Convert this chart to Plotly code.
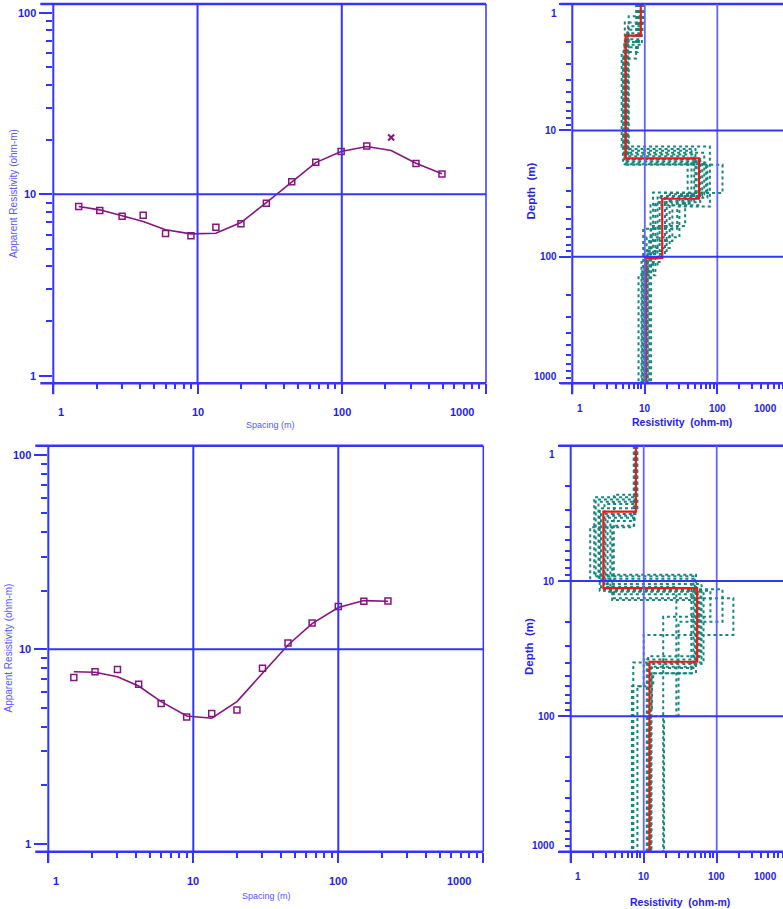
import math
import plotly.graph_objects as go

W, H = 783, 909

# ---------------- Sounding 1 ----------------
s1_spacing = [1.5, 2.1, 3.0, 4.2, 6.0, 9.0, 13.4, 20, 30, 45, 66, 99, 149, 220, 327, 495]
s1_observed = [8.55, 8.13, 7.57, 7.66, 6.07, 5.90, 6.58, 6.87, 8.92, 11.7, 15.0, 17.2, 18.4, 20.5, 14.75, 12.9]
s1_excluded = [13]  # index of the point left out of the inversion
s1_calculated = [8.55, 8.20, 7.60, 7.08, 6.37, 6.05, 6.10, 6.98, 9.00, 11.74, 14.93, 17.2, 18.3, 17.4, 14.8, 12.95]

s1_model_res = [8.8, 5.45, 56, 17.4, 10.3]
s1_model_depth = [1.78, 16.6, 34.7, 102]

s1_equiv_res = [
    [9.3, 5.8, 48, 20, 10.8],
    [8.3, 5.2, 62, 15, 9.8],
    [7.6, 5.0, 70, 13, 9.2],
    [9.0, 6.0, 44, 24, 11.5],
    [8.6, 5.6, 118, 19, 10.5],
    [8.0, 4.8, 79, 28, 9.5],
    [9.5, 5.3, 39, 36, 12.2],
    [8.9, 5.7, 52, 14, 8.2],
    [7.9, 5.1, 66, 22, 11.0],
    [9.2, 5.9, 58, 12, 10.0],
    [8.4, 5.4, 50, 30, 10.6],
    [9.1, 5.5, 73, 16, 9.0],
]
s1_equiv_depth = [
    [1.6, 15.5, 36, 90],
    [2.0, 17.5, 33, 115],
    [2.7, 18.5, 31, 130],
    [1.25, 14.5, 38, 75],
    [1.9, 18.7, 31.3, 95],
    [2.4, 13.4, 40, 60],
    [1.4, 16.0, 35, 57],
    [1.7, 17.0, 37, 140],
    [2.2, 15.0, 32, 85],
    [1.5, 16.8, 39, 125],
    [1.8, 14.0, 33, 70],
    [2.1, 18.0, 34, 110],
]

# ---------------- Sounding 2 ----------------
s2_spacing = [1.5, 2.1, 3.0, 4.2, 6.0, 9.0, 13.4, 20, 30, 45, 66, 100, 150, 220]
s2_observed = [7.15, 7.67, 7.86, 6.61, 5.27, 4.49, 4.67, 4.87, 7.98, 10.78, 13.66, 16.6, 17.66, 17.74]
s2_calculated = [7.67, 7.62, 7.23, 6.47, 5.38, 4.54, 4.42, 5.38, 7.53, 10.52, 13.55, 16.4, 17.8, 17.65]

s2_model_res = [7.8, 2.8, 54, 12]
s2_model_depth = [3.07, 11.3, 39.5]

s2_equiv_res = [
    [8.0, 2.1, 50, 12.5],
    [7.5, 3.5, 60, 11.5],
    [7.3, 1.85, 45, 13, 12],
    [7.9, 3.9, 169, 10, 8.2],
    [8.2, 2.5, 82, 18.5],
    [7.6, 3.2, 66, 7.2],
    [7.8, 2.9, 28, 19],
    [8.1, 2.2, 52, 13.5, 6.9],
    [7.4, 3.7, 57, 11],
    [7.7, 2.6, 120, 30, 12.5],
    [7.6, 3.0, 62, 12.8],
    [8.0, 2.4, 48, 11.2],
]
s2_equiv_depth = [
    [2.4, 9.2, 43],
    [3.6, 12.5, 36],
    [4.0, 10.0, 48, 90],
    [2.3, 13.4, 25, 60],
    [2.9, 11.8, 18.4],
    [3.3, 12.0, 40],
    [2.7, 11.0, 100],
    [2.5, 9.0, 48, 60],
    [3.9, 13.8, 38],
    [3.2, 11.5, 20, 100],
    [3.4, 10.5, 41],
    [2.6, 9.6, 44],
]

# Axis tick labels
curve_x_ticks = [1, 10, 100, 1000]
curve_y_ticks = [1, 10, 100]
section_x_ticks = [1, 10, 100, 1000]
section_y_ticks = [1, 10, 100, 1000]

BLUE = "#3434ff"
GRID_LIGHT = "#6262ff"
LABEL = "#2323e8"
TITLE_LIGHT = "#5656ff"
PURPLE = "#86147f"
TEAL = "#17857d"
RED = "#f01616"
FONT = "Liberation Sans"

DEPTH_MIN, DEPTH_MAX = 1, 1000

# Panel boxes in pixels (left, top, right, bottom) and log10 axis ranges
panels = {
    "c1": dict(box=(53.3, 4.0, 486.0, 383.3), xr=[0, 3.0], yr=[-0.041, 2.047], xa="x", ya="y"),
    "m1": dict(box=(572.3, 4.0, 783.0, 383.3), xr=[0, 2.906], yr=[3, 0], xa="x2", ya="y2"),
    "c2": dict(box=(48.3, 445.7, 483.3, 851.7), xr=[0, 3.0], yr=[-0.041, 2.047], xa="x3", ya="y3"),
    "m2": dict(box=(570.7, 445.7, 783.0, 851.7), xr=[0, 2.908], yr=[3, 0], xa="x4", ya="y4"),
}


def px(x):
    return x / W


def py(y):
    return 1 - y / H


def xpix(p, v):
    l, t, r, b = p["box"]
    return l + (math.log10(v) - p["xr"][0]) / (p["xr"][1] - p["xr"][0]) * (r - l)


def ypix(p, v):
    l, t, r, b = p["box"]
    y0, y1 = p["yr"]
    return b - (math.log10(v) - y0) / (y1 - y0) * (b - t)


def step_profile(res, depths):
    bounds = [DEPTH_MIN] + list(depths) + [DEPTH_MAX]
    xs, ys = [], []
    for i, r in enumerate(res):
        xs += [r, r]
        ys += [bounds[i], bounds[i + 1]]
    return xs, ys


fig = go.Figure()

# ---- sounding curves ----
for key, sp, obs, calc, excl in [
    ("c1", s1_spacing, s1_observed, s1_calculated, s1_excluded),
    ("c2", s2_spacing, s2_observed, s2_calculated, []),
]:
    p = panels[key]
    fig.add_trace(go.Scatter(x=sp, y=calc, mode="lines", line=dict(color=PURPLE, width=1.6),
                             xaxis=p["xa"], yaxis=p["ya"], showlegend=False, hoverinfo="skip"))
    keep = [i for i in range(len(sp)) if i not in excl]
    fig.add_trace(go.Scatter(x=[sp[i] for i in keep], y=[obs[i] for i in keep], mode="markers",
                             marker=dict(symbol="square-open", size=6, color=PURPLE,
                                         line=dict(width=1.5, color=PURPLE)),
                             xaxis=p["xa"], yaxis=p["ya"], showlegend=False))
    if excl:
        fig.add_trace(go.Scatter(x=[sp[i] for i in excl], y=[obs[i] for i in excl], mode="markers",
                                 marker=dict(symbol="x-thin", size=6, color=PURPLE,
                                             line=dict(width=2, color=PURPLE)),
                                 xaxis=p["xa"], yaxis=p["ya"], showlegend=False))

# ---- layered models with equivalence range ----
for key, eq_res, eq_dep, m_res, m_dep in [
    ("m1", s1_equiv_res, s1_equiv_depth, s1_model_res, s1_model_depth),
    ("m2", s2_equiv_res, s2_equiv_depth, s2_model_res, s2_model_depth),
]:
    p = panels[key]
    for r, d in zip(eq_res, eq_dep):
        xs, ys = step_profile(r, d)
        fig.add_trace(go.Scatter(x=xs, y=ys, mode="lines", line=dict(color=TEAL, width=2, dash="dot"),
                                 xaxis=p["xa"], yaxis=p["ya"], showlegend=False, hoverinfo="skip"))
    xs, ys = step_profile(m_res, m_dep)
    fig.add_trace(go.Scatter(x=xs, y=ys, mode="lines", line=dict(color=RED, width=2.2),
                             xaxis=p["xa"], yaxis=p["ya"], showlegend=False))

layout = dict(width=W, height=H, margin=dict(l=0, r=0, t=0, b=0),
              paper_bgcolor="white", plot_bgcolor="white", showlegend=False)

shapes = []
annotations = []


def line(x0, y0, x1, y1, w=2.0, color=BLUE):
    shapes.append(dict(type="line", xref="paper", yref="paper",
                       x0=px(x0), y0=py(y0), x1=px(x1), y1=py(y1),
                       line=dict(color=color, width=w), layer="above"))


def text(x, y, s, size, color=LABEL, bold=True, xanchor="center", yanchor="middle", angle=0):
    annotations.append(dict(xref="paper", yref="paper", x=px(x), y=py(y), text=f"<b>{s}</b>" if bold else s,
                            showarrow=False, xanchor=xanchor, yanchor=yanchor, textangle=angle,
                            font=dict(family=FONT, size=size, color=color)))


for key, p in panels.items():
    idx = p["xa"][1:]
    l, t, r, b = p["box"]
    is_curve = key.startswith("c")
    ytick_len = 13 if is_curve else 12
    xaxis = dict(type="log", range=p["xr"], domain=[px(l), px(r)], anchor=p["ya"],
                 showgrid=False, zeroline=False, showline=False, showticklabels=False,
                 tickmode="linear", tick0=0, dtick=1, ticks="outside", ticklen=10, tickwidth=2,
                 tickcolor=BLUE,
                 minor=dict(ticks="outside", ticklen=5, tickwidth=1.5, tickcolor=BLUE, dtick="D1",
                            showgrid=False))
    yaxis = dict(type="log", range=p["yr"], domain=[py(b), py(t)], anchor=p["xa"],
                 showgrid=False, zeroline=False, showline=False, showticklabels=False,
                 tickmode="linear", tick0=0, dtick=1, ticks="outside", ticklen=ytick_len, tickwidth=2,
                 tickcolor=BLUE,
                 minor=dict(ticks="outside", ticklen=6 if is_curve else 5, tickwidth=1.5, tickcolor=BLUE,
                            dtick="D1", showgrid=False))
    layout["xaxis" + idx] = xaxis
    layout["yaxis" + idx] = yaxis

    # frame
    line(l - ytick_len, t, r, t, w=2.5)
    line(l - ytick_len, b, r, b, w=2.5)
    line(l, t, l, b + 11, w=2)
    if is_curve:
        line(r, t, r, b, w=1.5)

    # grid
    for v in [10, 100]:
        gx = xpix(p, v)
        line(gx, t, gx, b, w=2 if is_curve else 1.8, color=BLUE if is_curve else GRID_LIGHT)
    for v in ([10] if is_curve else [10, 100]):
        gy = ypix(p, v)
        line(l, gy, r, gy, w=2)

    # tick labels
    if is_curve:
        xt, yt, fs = curve_x_ticks, curve_y_ticks, 11
        ylab_right = l - 15.5
        xlab_y = b + 29
    else:
        xt, yt, fs = section_x_ticks, section_y_ticks, 10
        ylab_right = l - 13.5
        xlab_y = b + 25
    for i, v in enumerate(xt):
        x = xpix(p, v)
        if i == 0:
            text(x + 2.5, xlab_y, str(v), fs, xanchor="left")
        elif i == len(xt) - 1:
            text(x - 10.5, xlab_y, str(v), fs, xanchor="right")
        else:
            text(x, xlab_y, str(v), fs)
    for i, v in enumerate(yt):
        y = ypix(p, v)
        if not is_curve and i == 0:
            y += 9
        elif not is_curve and i == len(yt) - 1:
            y -= 6.5
        text(ylab_right, y, str(v), fs, xanchor="right")

# axis titles
text(270, 425, "Spacing (m)", 9, color=TITLE_LIGHT, bold=False)
text(266.5, 896, "Spacing (m)", 9, color=TITLE_LIGHT, bold=False)
text(13, 194, "Apparent Resistivity (ohm-m)", 10, color=TITLE_LIGHT, bold=False, angle=-90)
text(7.5, 648, "Apparent Resistivity (ohm-m)", 10, color=TITLE_LIGHT, bold=False, angle=-90)
text(681.5, 421.7, "Resistivity  (ohm-m)", 10.5)
text(680, 901.7, "Resistivity  (ohm-m)", 10.5)
text(530, 191.5, "Depth  (m)", 11.5, angle=-90)
text(528.5, 646.5, "Depth  (m)", 11.5, angle=-90)

layout["shapes"] = shapes
layout["annotations"] = annotations
fig.update_layout(**layout)

fig.write_html("out.html")
